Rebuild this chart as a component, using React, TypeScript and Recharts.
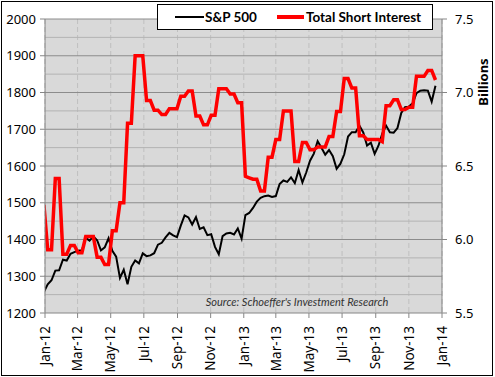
import React from 'react';
import { ComposedChart, Line, XAxis, YAxis, CartesianGrid, ReferenceLine } from 'recharts';

// weekly closes, first week ending Fri Dec 30 2011
const firstWeek = Date.UTC(2011, 11, 30);
const WEEK = 7 * 24 * 3600 * 1000;

const spx = [
  1257.6, 1277.8, 1289.1, 1315.4, 1316.3, 1344.9, 1342.6, 1361.2, 1365.7, 1369.6,
  1370.9, 1404.2, 1397.1, 1408.5, 1398.1, 1370.3, 1378.5, 1403.4, 1369.1, 1353.4,
  1295.2, 1317.8, 1278.0, 1325.7, 1342.8, 1335.0, 1362.2, 1354.7, 1356.8, 1362.7,
  1386.0, 1391.0, 1405.9, 1418.2, 1411.1, 1406.6, 1437.9, 1465.8, 1460.2, 1440.7,
  1460.9, 1428.6, 1433.2, 1411.9, 1414.2, 1379.9, 1359.9, 1409.2, 1416.2, 1418.1,
  1413.6, 1430.2, 1402.4, 1466.5, 1472.1, 1486.0, 1503.0, 1513.2, 1517.9, 1519.8,
  1515.6, 1518.2, 1551.2, 1560.7, 1556.9, 1569.2, 1553.3, 1588.9, 1555.3, 1582.2,
  1614.4, 1633.7, 1667.5, 1649.6, 1630.7, 1643.4, 1626.7, 1592.4, 1606.3, 1631.9,
  1680.2, 1692.1, 1691.7, 1709.7, 1691.4, 1655.8, 1663.5, 1633.0, 1655.2, 1688.0,
  1709.9, 1691.8, 1690.5, 1703.2, 1744.5, 1759.8, 1761.6, 1770.6, 1798.2, 1804.8,
  1805.8, 1805.1, 1775.3, 1818.3,
];

// total short interest, billions of shares
const shortInterest = [
  6.235, 5.93, 5.93, 6.415, 6.415, 5.9, 5.9, 5.96, 5.96, 5.91,
  5.91, 6.02, 6.02, 6.02, 5.88, 5.88, 5.83, 5.83, 6.06, 6.06,
  6.25, 6.25, 6.79, 6.79, 7.25, 7.25, 7.25, 6.945, 6.945, 6.88,
  6.88, 6.85, 6.85, 6.89, 6.89, 6.89, 6.975, 6.975, 7.01, 7.01,
  6.84, 6.84, 6.78, 6.78, 6.845, 6.845, 7.025, 7.025, 7.025, 6.99,
  6.99, 6.93, 6.93, 6.43, 6.42, 6.41, 6.41, 6.33, 6.33, 6.56,
  6.56, 6.68, 6.68, 6.875, 6.875, 6.875, 6.53, 6.53, 6.66, 6.66,
  6.61, 6.61, 6.63, 6.63, 6.63, 6.7, 6.7, 6.87, 6.87, 7.095,
  7.095, 7.03, 7.03, 6.705, 6.705, 6.68, 6.68, 6.68, 6.68, 6.665,
  6.91, 6.91, 6.95, 6.95, 6.885, 6.885, 6.9, 6.9, 7.11, 7.11,
  7.11, 7.15, 7.15, 7.085,
];

const xTickLabels = ['Jan-12', 'Mar-12', 'May-12', 'Jul-12', 'Sep-12', 'Nov-12', 'Jan-13',
  'Mar-13', 'May-13', 'Jul-13', 'Sep-13', 'Nov-13', 'Jan-14'];
const leftTicks = [1200, 1300, 1400, 1500, 1600, 1700, 1800, 1900, 2000];
const rightTicks = [5.5, 6.0, 6.5, 7.0, 7.5];
const minorLines = [1250, 1350, 1450, 1550, 1650, 1750, 1850, 1950];

const MONTHS = ['Jan', 'Feb', 'Mar', 'Apr', 'May', 'Jun', 'Jul', 'Aug', 'Sep', 'Oct', 'Nov', 'Dec'];

const labelToTime = (s: string) => {
  const [m, y] = s.split('-');
  return Date.UTC(2000 + Number(y), MONTHS.indexOf(m), 1);
};
const xTicks = xTickLabels.map(labelToTime);

const data = spx.map((v, i) => ({
  t: firstWeek + i * WEEK,
  sp: v,
  si: shortInterest[i],
}));

const FONT = '"Noto Sans", sans-serif';
const FONT2 = 'Lato, sans-serif';
const AXIS_GREY = '#868686';

const XTick = (props: any) => {
  const { x, y, payload } = props;
  const d = new Date(payload.value);
  const label = `${MONTHS[d.getUTCMonth()]}-${String(d.getUTCFullYear()).slice(2)}`;
  return (
    <text
      transform={`translate(${x},${y + 6}) rotate(-90)`}
      textAnchor="end"
      dy="0.35em"
      fontSize={13.5}
      fontFamily={FONT}
      fill="#000"
    >
      {label}
    </text>
  );
};

export default function App() {
  return (
    <div style={{ position: 'absolute', left: 0, top: 0, width: 495, height: 377, background: '#fff' }}>
      <div
        style={{
          position: 'absolute', left: 1, top: 1, width: 492, height: 375,
          border: '1px solid #000', boxSizing: 'border-box',
        }}
      />
      <ComposedChart
        width={495}
        height={377}
        data={data}
        margin={{ top: 19, right: 0, bottom: 0, left: 0 }}
        style={{ fontFamily: FONT }}
      >
        <CartesianGrid
          horizontal={false}
          fill="#D9D9D9"
          stroke="#BFBFBF"
          strokeDasharray="5 3"
        />
        {minorLines.map((v) => (
          <ReferenceLine key={`mn-${v}`} yAxisId="left" y={v} stroke="#B3B3B3" strokeWidth={1} />
        ))}
        {leftTicks.slice(1).map((v) => (
          <ReferenceLine key={`mj-${v}`} yAxisId="left" y={v} stroke="#8C8C8C" strokeWidth={1} />
        ))}
        <XAxis
          dataKey="t"
          type="number"
          scale="time"
          domain={[xTicks[0], xTicks[xTicks.length - 1]]}
          allowDataOverflow
          ticks={xTicks}
          interval={0}
          height={64}
          tick={<XTick />}
          tickSize={5}
          axisLine={{ stroke: AXIS_GREY }}
          tickLine={{ stroke: AXIS_GREY }}
          label={{
            content: () => (
              <text
                x={297}
                y={306}
                textAnchor="middle"
                fontSize={11}
                fontStyle="italic"
                fontFamily={FONT2}
                fill="#333"
              >
                Source: Schoeffer's Investment Research
              </text>
            ),
          }}
        />
        <YAxis
          yAxisId="left"
          orientation="left"
          width={45}
          domain={[1200, 2000]}
          ticks={leftTicks}
          interval={0}
          tickSize={5}
          tickMargin={4}
          tick={{ fontSize: 13, fill: '#000', fontFamily: FONT }}
          axisLine={{ stroke: AXIS_GREY }}
          tickLine={{ stroke: AXIS_GREY }}
        />
        <YAxis
          yAxisId="right"
          orientation="right"
          width={53}
          domain={[5.5, 7.5]}
          ticks={rightTicks}
          interval={0}
          tickSize={5}
          tickMargin={8}
          tickFormatter={(v: number) => v.toFixed(1)}
          tick={{ fontSize: 13, fill: '#000', fontFamily: FONT }}
          axisLine={{ stroke: AXIS_GREY }}
          tickLine={{ stroke: AXIS_GREY }}
          label={{
            content: () => (
              <text
                transform="translate(483,82) rotate(-90)"
                textAnchor="middle"
                dy="0.35em"
                fontSize={13}
                fontWeight="bold"
                fontFamily={FONT}
                fill="#000"
              >
                Billions
              </text>
            ),
          }}
        />
        <Line
          yAxisId="left"
          dataKey="sp"
          name="S&P 500"
          type="linear"
          stroke="#000"
          strokeWidth={2}
          dot={false}
          isAnimationActive={false}
        />
        <Line
          yAxisId="right"
          dataKey="si"
          name="Total Short Interest"
          type="linear"
          stroke="#FF0000"
          strokeWidth={3.5}
          dot={false}
          isAnimationActive={false}
        />
      </ComposedChart>
      <div
        style={{
          position: 'absolute', left: 157, top: 4, width: 276, height: 26,
          boxSizing: 'border-box', border: '1px solid #000', background: '#fff',
          display: 'flex', alignItems: 'center', fontFamily: FONT2, fontWeight: 'bold', fontSize: 13.5,
        }}
      >
        <span style={{ display: 'inline-block', width: 29, height: 2, background: '#000', marginLeft: 17 }} />
        <span style={{ marginLeft: 1 }}>S&amp;P 500</span>
        <span style={{ display: 'inline-block', width: 27, height: 4, background: '#FF0000', marginLeft: 20 }} />
        <span style={{ marginLeft: 2 }}>Total Short Interest</span>
      </div>
    </div>
  );
}
